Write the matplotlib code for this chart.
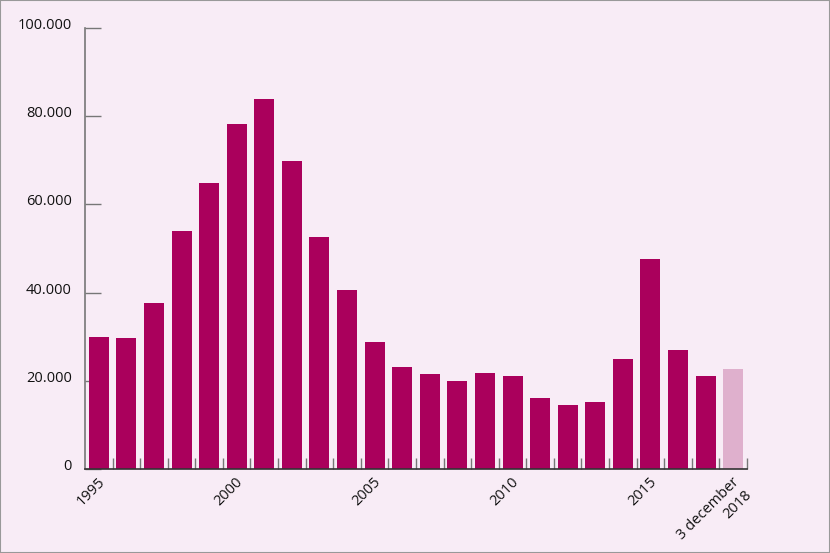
import numpy as np
import matplotlib.pyplot as plt
import matplotlib.transforms as mtransforms
from matplotlib.patches import Rectangle

plt.rcParams['font.family'] = ['Open Sans', 'DejaVu Sans']

years = [str(y) for y in range(1995, 2019)]
values = [30000, 29700, 37600, 54000, 64750, 78250, 83800, 69800, 52700, 40600,
          28700, 23100, 21600, 20000, 21700, 21200, 16000, 14500, 15250, 24850,
          47700, 26900, 21000, 22600]
tick_labels = ['1995', '', '', '', '', '2000', '', '', '', '', '2005', '', '', '', '',
               '2010', '', '', '', '', '2015', '', '', '3 december\n2018']
y_ticks = [0, 20000, 40000, 60000, 80000, 100000]

bg = '#f8ecf6'
dark = '#aa005c'
light = '#dfb0cd'

fig = plt.figure(figsize=(8.3, 5.53), dpi=100, facecolor=bg)
ax = fig.add_axes([0.1024, 0.1519, 0.7976, 0.7975])
ax.set_facecolor(bg)

x = np.arange(len(years))
colors = [dark] * (len(years) - 1) + [light]
ax.bar(x, values, width=0.725, color=colors, zorder=2)

ax.set_xlim(-0.5, len(years) - 0.5)
ax.set_ylim(0, 100000)

ax.spines['top'].set_visible(False)
ax.spines['right'].set_visible(False)
ax.spines['left'].set_color('#777777')
ax.spines['left'].set_linewidth(1.2)
ax.spines['bottom'].set_color('#333333')
ax.spines['bottom'].set_linewidth(1.2)
ax.spines['bottom'].set_zorder(3)

# y axis: ticks pointing inward, dotted thousands
ax.set_yticks(y_ticks)
ax.set_yticklabels([f"{v:,}".replace(',', '.') for v in y_ticks])
ax.tick_params(axis='y', direction='in', length=11.5, width=1, color='#777777',
               pad=9.5, labelsize=10.5, labelcolor='#111111')
up = mtransforms.ScaledTranslation(0, 3.2 / 72, fig.dpi_scale_trans)
for lbl in ax.get_yticklabels():
    lbl.set_transform(lbl.get_transform() + up)

# x axis: labels at the bars, small ticks between the bars
ax.set_xticks(x)
ax.set_xticklabels(tick_labels, rotation=45, ha='right', va='top',
                   rotation_mode='anchor', multialignment='right',
                   linespacing=1.25)
ax.tick_params(axis='x', which='major', length=0, pad=4, labelsize=10.5,
               labelcolor='#111111')
ax.set_xticks(list(x + 0.5), minor=True)
ax.tick_params(axis='x', which='minor', direction='in', length=8, width=1,
               color='#777777')

left = mtransforms.ScaledTranslation(-1 / 72, 0, fig.dpi_scale_trans)
for lbl in ax.get_xticklabels():
    lbl.set_transform(lbl.get_transform() + left)

fig.add_artist(Rectangle((0, 0), 1, 1, transform=fig.transFigure, fill=False,
                         edgecolor='#999999', linewidth=1.5))

fig.savefig('out.png', dpi=100, facecolor=bg)
